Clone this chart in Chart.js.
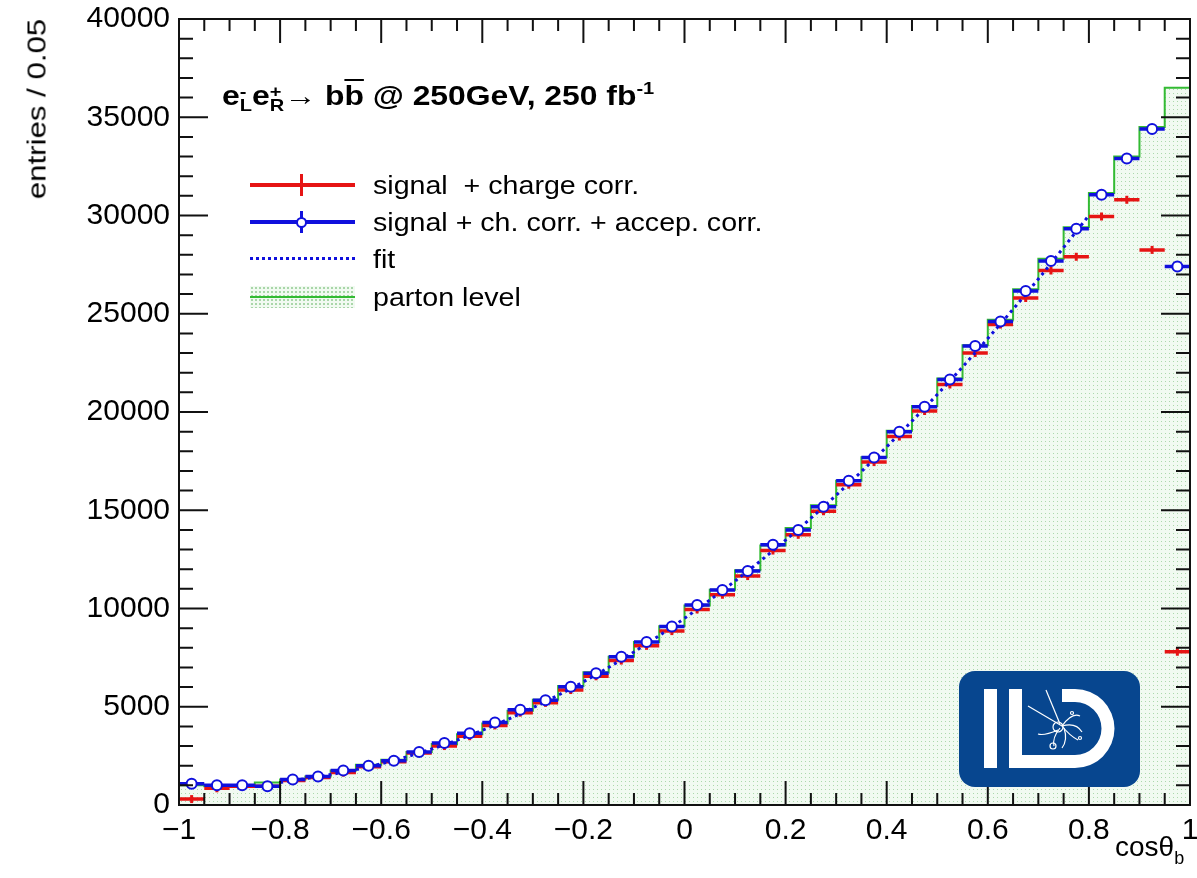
<!DOCTYPE html>
<html><head><meta charset="utf-8">
<script src="https://cdn.jsdelivr.net/npm/chart.js@4.4.1/dist/chart.umd.min.js"></script>
<style>
html,body{margin:0;padding:0;background:#fff;}
#wrap{position:relative;width:1197px;height:878px;overflow:hidden;font-family:'Liberation Sans',Arial,Helvetica,sans-serif;color:#000;}
canvas{position:absolute;left:0;top:0;}
.abs{position:absolute;white-space:nowrap;}
.ss{display:inline-block;vertical-align:-6px;line-height:14px;font-size:17px;text-align:left;}
.ss span{display:block;}
.lt{position:absolute;left:373px;font-size:26px;line-height:30px;white-space:nowrap;transform:scaleX(1.1);transform-origin:left center;}
</style></head><body>
<div id="wrap">
<canvas id="c" width="1197" height="878"></canvas>

<div class="abs" style="left:0;top:109px;width:0;height:0;">
  <div style="position:absolute;left:37px;top:0;transform:translate(-50%,-50%) rotate(-90deg) scaleX(1.2);transform-origin:center;font-size:26px;white-space:nowrap;">entries / 0.05</div>
</div>
<div class="abs" style="left:1115px;top:831px;font-size:28px;">cosθ<span style="font-size:18px;position:relative;top:8px;">b</span></div>

<div class="abs" style="left:222px;top:80px;font-size:27px;font-weight:bold;line-height:32px;transform:scaleX(1.18);transform-origin:left center;">e<span class="ss"><span>-</span><span>L</span></span>e<span class="ss"><span>+</span><span>R</span></span>→ b<span style="text-decoration:overline;">b</span> @ 250GeV, 250 fb<span style="font-size:17px;position:relative;top:-11px;">-1</span></div>

<!-- legend symbols -->
<div class="abs" style="left:250px;top:183px;width:105px;height:4px;background:#e61414;"></div>
<div class="abs" style="left:300px;top:174px;width:3px;height:22px;background:#e61414;"></div>
<div class="abs" style="left:250px;top:220px;width:105px;height:4px;background:#1010dd;"></div>
<div class="abs" style="left:300px;top:211px;width:3px;height:22px;background:#1010dd;"></div>
<div class="abs" style="left:296px;top:217px;width:7px;height:7px;border:2px solid #1010dd;border-radius:50%;background:#fff;"></div>
<div class="abs" style="left:250px;top:257px;width:105px;height:3px;background:repeating-linear-gradient(90deg,#1010dd 0 3px,transparent 3px 6px);"></div>
<div class="abs" style="left:250px;top:286px;width:105px;height:22px;background-color:#f1faf1;background-image:radial-gradient(#a9d6a9 0.8px,transparent 1px);background-size:4px 4px;"></div>
<div class="abs" style="left:250px;top:296px;width:105px;height:2px;background:#33bb33;"></div>

<div class="lt" style="top:170px;">signal&nbsp; + charge corr.</div>
<div class="lt" style="top:207px;">signal + ch. corr. + accep. corr.</div>
<div class="lt" style="top:244px;">fit</div>
<div class="lt" style="top:282px;">parton level</div>

<!-- ILD logo -->
<svg class="abs" style="left:0;top:0;" width="1197" height="878">
  <rect x="959" y="671" width="181" height="116" rx="16" ry="16" fill="#07468f"/>
  <rect x="984" y="689" width="13" height="79" fill="#fff"/>
  <path d="M1009 689 h13 v66 h26 v13 h-39z" fill="#fff"/>
  <path d="M1062 689 h13 a39.5 39.5 0 0 1 0 79 h-28 v-13 h28 a26.5 26.5 0 0 0 0 -53 h-13z" fill="#fff"/>
  <g stroke="#fff" stroke-width="1.2" fill="none">
    <line x1="1028" y1="706" x2="1062" y2="726"/>
    <line x1="1046" y1="690" x2="1060" y2="724"/>
    <circle cx="1058" cy="727" r="5"/>
    <path d="M1062 726 q10 -14 18 -10"/>
    <path d="M1062 726 q14 -4 20 6"/>
    <path d="M1062 726 q8 10 16 14"/>
    <path d="M1060 728 q-8 10 -6 18"/>
    <path d="M1058 730 q-14 6 -20 4"/>
    <path d="M1064 728 q4 12 -2 20"/>
    <circle cx="1053" cy="746" r="3"/>
    <circle cx="1072" cy="713" r="1.5"/>
    <circle cx="1080" cy="738" r="1.5"/>
  </g>
</svg>
</div>
<script>
// ---- data ----
const binCenters = [-0.975,-0.925,-0.875,-0.825,-0.775,-0.725,-0.675,-0.625,-0.575,-0.525,
  -0.475,-0.425,-0.375,-0.325,-0.275,-0.225,-0.175,-0.125,-0.075,-0.025,
  0.025,0.075,0.125,0.175,0.225,0.275,0.325,0.375,0.425,0.475,
  0.525,0.575,0.625,0.675,0.725,0.775,0.825,0.875,0.925,0.975];
const partonLevel = [1000,950,980,1150,1300,1450,1750,2050,2300,2700,
  3100,3600,4150,4800,5350,6050,6750,7550,8300,9100,
  10150,10950,11950,13200,14100,15250,16500,17700,19050,20300,
  21700,23400,24700,26250,27800,29400,31150,33000,34500,36500];
const signalChargeCorr = [300,850,950,950,1250,1400,1650,1950,2200,2650,
  3000,3500,4050,4700,5200,5850,6550,7350,8100,8850,
  9950,10700,11650,12950,13750,14950,16300,17450,18750,20050,
  21400,23000,24450,25800,27200,27900,29950,30800,28250,7800];
const signalAccepCorr = [1080,1000,1000,950,1300,1450,1750,2000,2250,2700,
  3150,3650,4200,4850,5330,6020,6710,7550,8300,9080,
  10180,10940,11910,13250,14000,15180,16500,17680,19000,20270,
  21650,23360,24600,26160,27690,29320,31050,32900,34400,27400];
const fitX = [-0.8,-0.7,-0.6,-0.5,-0.4,-0.3,-0.2,-0.1,0,0.1,0.2,0.3,0.4,0.5,0.6,0.7,0.8];
const fitY = [1150,1550,2100,2850,3800,4950,6270,7790,9500,11400,13480,15760,18230,20890,23740,26770,30000];
const xTickValues = [-1,-0.8,-0.6,-0.4,-0.2,0,0.2,0.4,0.6,0.8,1];
const yTickValues = [0,5000,10000,15000,20000,25000,30000,35000,40000];
const halfBin = 0.025;

// ---- build datasets ----
const canvas = document.getElementById('c');
const ctx = canvas.getContext('2d');
const pc = document.createElement('canvas'); pc.width = 4; pc.height = 4;
const pctx = pc.getContext('2d');
pctx.fillStyle = '#f1faf1'; pctx.fillRect(0,0,4,4);
pctx.fillStyle = '#acd8ac'; pctx.fillRect(1,1,1,1);
const dotPattern = ctx.createPattern(pc, 'repeat');

const histData = binCenters.map((c,i)=>({x:c-halfBin, y:partonLevel[i]}));
histData.push({x:binCenters[binCenters.length-1]+halfBin, y:partonLevel[partonLevel.length-1]});

function hBars(vals){
  const d = [];
  binCenters.forEach((c,i)=>{ d.push({x:c-halfBin,y:vals[i]},{x:c+halfBin,y:vals[i]},{x:c,y:null}); });
  return d;
}
const pts = vals => binCenters.map((c,i)=>({x:c,y:vals[i]}));

const RED = '#e61414', BLUE = '#1010dd', GREEN = '#33bb33';

const fmt = v => { const r = Math.round(v*10)/10; return (r<0?'\u2212':'') + String(Math.abs(r)); };

const frameTicks = {
  id:'frameTicks',
  afterDatasetsDraw(chart){
    const {ctx, chartArea:a, scales:{x,y}} = chart;
    ctx.save();
    ctx.strokeStyle = '#111'; ctx.lineWidth = 2;
    ctx.beginPath();
    for (let k=0;k<=40;k++){
      const v = -1 + k*0.05;
      const p = x.getPixelForValue(v);
      const L = (k%4===0) ? 24 : 12;
      ctx.moveTo(p, a.bottom); ctx.lineTo(p, a.bottom-L);
      ctx.moveTo(p, a.top); ctx.lineTo(p, a.top+L);
    }
    for (let k=0;k<=40;k++){
      const p = y.getPixelForValue(k*1000);
      const L = (k%5===0) ? 29 : 14;
      ctx.moveTo(a.left, p); ctx.lineTo(a.left+L, p);
      ctx.moveTo(a.right, p); ctx.lineTo(a.right-L, p);
    }
    ctx.stroke();
    ctx.strokeRect(a.left, a.top, a.right-a.left, a.bottom-a.top);
    ctx.restore();
  }
};

Chart.defaults.font.family = "'Liberation Sans', Arial, Helvetica, sans-serif";
Chart.defaults.color = '#000';

new Chart(ctx, {
  type:'line',
  data:{ datasets:[
    { label:'parton level', data:histData, stepped:'before', borderColor:GREEN, borderWidth:2,
      backgroundColor:dotPattern, fill:'origin', pointRadius:0, order:10 },
    { label:'signal + charge corr.', data:hBars(signalChargeCorr), borderColor:RED, borderWidth:3.5,
      pointRadius:0, spanGaps:false, fill:false, order:8 },
    { label:'red markers', type:'scatter', data:pts(signalChargeCorr), pointStyle:'line', rotation:90,
      pointRadius:4, borderColor:RED, borderWidth:3, showLine:false, order:7 },
    { label:'signal + ch. corr. + accep. corr.', data:hBars(signalAccepCorr), borderColor:BLUE, borderWidth:3.5,
      pointRadius:0, spanGaps:false, fill:false, order:6 },
    { label:'fit', data:fitX.map((v,i)=>({x:v,y:fitY[i]})), borderColor:BLUE, borderWidth:3,
      borderDash:[3,4], cubicInterpolationMode:'monotone', pointRadius:0, fill:false, order:5 },
    { label:'blue markers', type:'scatter', data:pts(signalAccepCorr), pointStyle:'circle',
      pointRadius:5, borderColor:BLUE, borderWidth:2, backgroundColor:'#ffffff', showLine:false, order:4 }
  ]},
  options:{
    responsive:false, animation:false, devicePixelRatio:1,
    layout:{ padding:{ top:19, right:6, left:0, bottom:0 } },
    plugins:{ legend:{display:false}, tooltip:{enabled:false} },
    scales:{
      x:{ type:'linear', min:-1, max:1,
          grid:{display:false, drawTicks:false}, border:{display:false},
          afterBuildTicks: s => { s.ticks = xTickValues.map(v=>({value:v})); },
          afterFit: s => { s.height = 73; s.paddingLeft = 0; s.paddingRight = 0; },
          ticks:{ font:{size:30}, padding:8, autoSkip:false, maxRotation:0, callback: v => fmt(v) } },
      y:{ type:'linear', min:0, max:40000,
          grid:{display:false, drawTicks:false}, border:{display:false},
          afterBuildTicks: s => { s.ticks = yTickValues.map(v=>({value:v})); },
          afterFit: s => { s.width = 179; s.paddingTop = 0; s.paddingBottom = 0; },
          ticks:{ font:{size:30}, padding:9, autoSkip:false, callback: v => String(v) } }
    }
  },
  plugins:[frameTicks]
});
</script>
</body></html>
